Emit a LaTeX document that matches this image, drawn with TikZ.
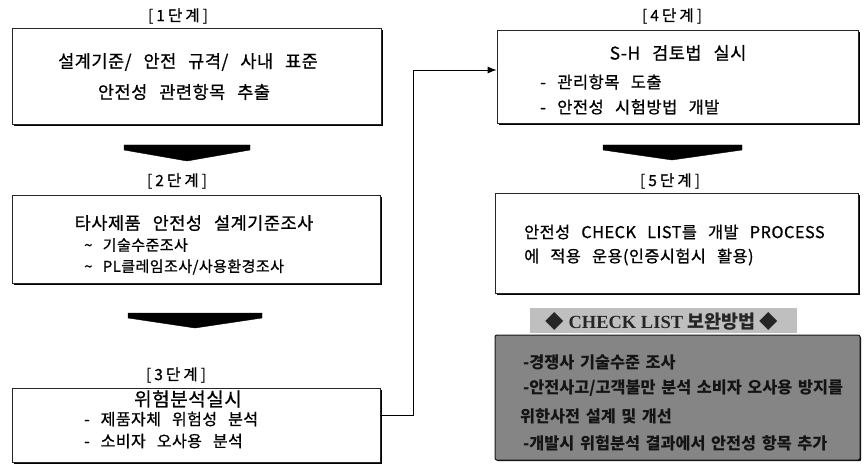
\documentclass[tikz,border=0pt]{standalone}
\usepackage{fontspec}
\setmainfont{Noto Sans CJK KR}
\newfontfamily\kr[LetterSpace=3, WordSpace=2.7, FakeBold=0.8]{Noto Sans CJK KR}
\newfontfamily\krl[LetterSpace=20, FakeBold=0.6]{Noto Sans CJK KR}
\newfontfamily\krb[WordSpace=1.5]{Noto Sans CJK KR}
\newfontfamily\hdrlat{Liberation Serif}
\usetikzlibrary{arrows.meta,shadows}
\begin{document}
\begin{tikzpicture}[x=1pt,y=-1pt,
  stepbox/.style={draw=black!85, line width=0.8pt, fill=white, rectangle, inner sep=0pt,
    drop shadow={shadow xshift=1.6pt, shadow yshift=-1.6pt, fill=black, opacity=1}},
  steplabel/.style={font=\krl\fontsize{15.5}{16}\selectfont, inner sep=0pt},
  titletxt/.style={font=\kr\fontsize{17.5}{20}\selectfont, inner sep=0pt},
  subtxt/.style={font=\kr\fontsize{15}{17}\selectfont, inner sep=0pt, anchor=west},
  fatarrow/.style={fill=black, draw=black, line width=0.4pt},
  cltxt/.style={font=\krb\bfseries\fontsize{16.3}{17}\selectfont, text=black!92, inner sep=0pt, anchor=west}
]
\useasboundingbox (0,0) rectangle (865,465);

% ---- boxes
\node[stepbox, minimum width=369pt, minimum height=96pt] (b1) at (196.5,76) {};
\node[stepbox, minimum width=368pt, minimum height=88pt] (b2) at (196,239) {};
\node[stepbox, minimum width=368pt, minimum height=74pt] (b3) at (196,425) {};
\node[stepbox, minimum width=361pt, minimum height=93pt] (b4) at (677.5,76.5) {};
\node[stepbox, minimum width=363pt, minimum height=100pt] (b5) at (676.5,243) {};

% ---- step labels
\node[steplabel] (l1) at (178,16) {[1단계]};
\node[steplabel] (l2) at (177,181) {[2단계]};
\node[steplabel] (l3) at (176,375) {[3단계]};
\node[steplabel] (l4) at (672,16) {[4단계]};
\node[steplabel] (l5) at (670,181) {[5단계]};

% ---- texts
\node[titletxt] (t1a) at (188,62) {설계기준/ 안전 규격/ 사내 표준};
\node[titletxt] (t1b) at (184,92) {안전성 관련항목 추출};

\node[titletxt] (t2a) at (194,223) {타사제품 안전성 설계기준조사};
\node[subtxt] (t2b) at (84,245) {\textasciitilde{} 기술수준조사};
\node[subtxt] (t2c) at (84,267) {\textasciitilde{} PL클레임조사/사용환경조사};

\node[titletxt, font=\kr\fontsize{19}{20}\selectfont] (t3a) at (188,399) {위험분석실시};
\node[subtxt, font=\kr\fontsize{16}{17}\selectfont] (t3b) at (84,419) {- 제품자체 위험성 분석};
\node[subtxt, font=\kr\fontsize{16}{17}\selectfont] (t3c) at (84,441) {- 소비자 오사용 분석};

\node[titletxt] (t4a) at (678,53) {S-H 검토법 실시};
\node[subtxt, font=\kr\fontsize{16.5}{18}\selectfont] (t4b) at (540,82) {- 관리항목 도출};
\node[subtxt, font=\kr\fontsize{16.5}{18}\selectfont] (t4c) at (540,107) {- 안전성 시험방법 개발};

\node[subtxt, font=\kr\fontsize{16.3}{18}\selectfont] (t5a) at (524,232) {안전성 CHECK LIST를 개발 PROCESS};
\node[subtxt, font=\kr\fontsize{16.3}{18}\selectfont] (t5b) at (524,257) {에 적용 운용(인증시험시 활용)};

% ---- fat down arrows
\draw[fatarrow] (124,145) -- (250,145) -- (250,150) -- (187,161) -- (124,150) -- cycle;
\draw[fatarrow] (128,313) -- (262,313) -- (262,318) -- (195,328) -- (128,318) -- cycle;
\draw[fatarrow] (603,145) -- (742,145) -- (742,150) -- (672,160) -- (603,150) -- cycle;

% ---- connector 3 -> 4
\coordinate (c1) at (413,415);
\coordinate (c2) at (413,70);
\draw[black, line width=0.8pt, -{Latex[length=9pt,width=7pt]}]
  (b3.east |- c1) -- (c1) -- (c2) -- (b4.west |- c2);

% ---- checklist
\node[rectangle, fill=black!25, minimum width=267pt, minimum height=25pt, inner sep=0pt] (clh) at (663.5,320.5) {};
\node[inner sep=0pt, font=\bfseries\fontsize{18.5}{18}\selectfont, text=black!85] (clht) at (662,321)
  {◆ {\hdrlat CHECK LIST} 보완방법 ◆};
\node[rectangle, rounded corners=2pt, fill=black!48, draw=black!90, line width=1pt,
  minimum width=365pt, minimum height=125pt, inner sep=0pt,
  drop shadow={shadow xshift=1.2pt, shadow yshift=-1.2pt, fill=black, opacity=1}] (clb) at (677.5,397.5) {};
\node[cltxt] (cl1) at (523,362) {-경쟁사 기술수준 조사};
\node[cltxt] (cl2) at (523,388) {-안전사고/고객불만 분석 소비자 오사용 방지를};
\node[cltxt] (cl3) at (520,416) {위한사전 설계 및 개선};
\node[cltxt] (cl4) at (523,443) {-개발시 위험분석 결과에서 안전성 항목 추가};
\end{tikzpicture}
\end{document}
